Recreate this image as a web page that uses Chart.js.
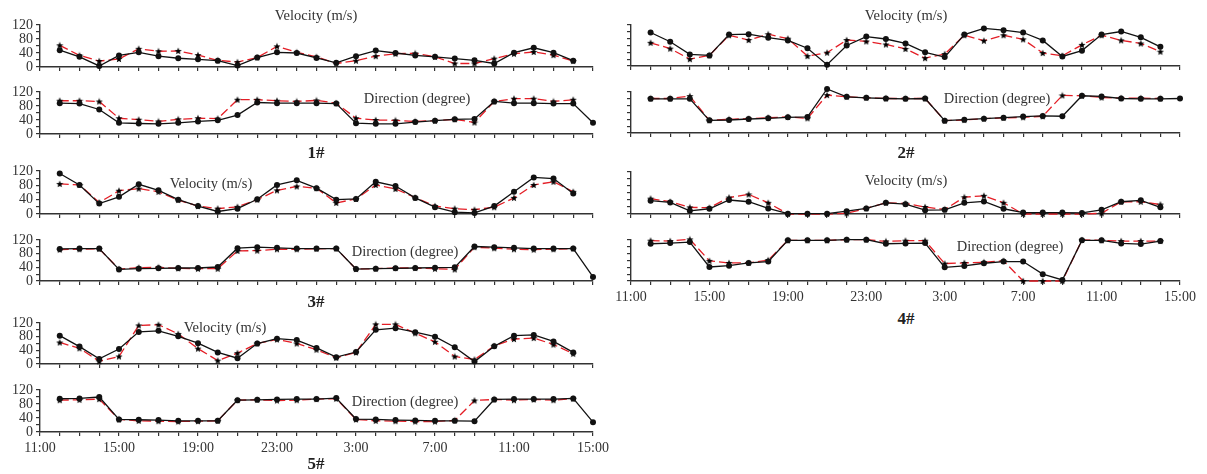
<!DOCTYPE html>
<html><head><meta charset="utf-8">
<script src="https://cdn.jsdelivr.net/npm/chart.js@4.4.0/dist/chart.umd.min.js"></script>
<style>
html,body{margin:0;padding:0;background:#fff;}
#wrap{position:relative;width:1207px;height:474px;overflow:hidden;font-family:"Liberation Serif","Times New Roman",serif;color:#333;}
#wrap canvas{position:absolute;}
.t{position:absolute;transform:translate(-50%,-50%);white-space:nowrap;font-size:14.5px;line-height:1;color:#333;}
.s{position:absolute;transform:translate(-50%,-50%);white-space:nowrap;font-weight:bold;font-size:17px;line-height:1;color:#222;}
</style></head><body><div id="wrap"></div>
<script>
// Hour categories (11:00 day 1 to 15:00 day 2)
const hours = ['11:00','12:00','13:00','14:00','15:00','16:00','17:00','18:00','19:00','20:00','21:00','22:00','23:00',
  '0:00','1:00','2:00','3:00','4:00','5:00','6:00','7:00','8:00','9:00','10:00','11:00','12:00','13:00','14:00','15:00'];
const yTickLabels = [0, 40, 80, 120];

// Values from 12:00 (day 1) onward
const vel1Measured  = [48,29,3,33,42,31,25,22,18,4,27,42, 40,26,12,31,47,40,33,29,24,19,10,41,55,41,18];
const vel1Simulated = [62,33,17,23,52,45,46,34,19,14,27,59, 42,29,10,18,31,38,39,29,10,10,24,38,43,34,17];
const dir1Measured  = [88,87,70,32,30,29,32,36,39,54,90,88, 88,88,87,31,29,29,34,38,42,43,93,88,88,87,87,32];
const dir1Simulated = [95,95,93,45,41,36,42,45,44,98,98,95, 93,96,88,45,40,39,36,38,42,33,93,101,101,93,98];

const vel2Measured  = [98,71,34,31,92,93,83,75,52,4,60,86, 79,66,40,26,92,110,105,98,75,28,45,92,101,84,56];
const vel2Simulated = [68,51,20,31,90,76,93,80,29,39,76,72, 63,50,23,35,90,74,90,78,38,30,62,90,75,66,42];
const dir2Measured  = [100,100,100,37,38,41,43,46,47,129,106,103, 101,100,101,36,39,42,45,48,50,49,109,107,101,100,100,101];
const dir2Simulated = [101,101,108,37,40,42,45,47,43,111,106,103, 101,101,101,36,38,42,44,46,49,110,109,104,102,102,101];

const vel3Measured  = [113,81,29,48,83,66,40,22,7,15,41,81, 94,72,40,42,90,78,45,19,5,3,22,62,102,99,57];
const vel3Simulated = [84,81,32,65,71,62,39,22,15,20,40,66, 77,72,31,42,81,70,46,22,15,12,19,45,81,90,62];
const dir3Measured  = [94,95,95,34,36,37,38,38,41,96,99,97, 95,95,95,35,36,37,38,39,40,101,99,97,95,95,95,12];
const dir3Simulated = [92,93,94,35,39,40,37,36,36,88,89,93, 93,94,95,35,36,38,38,36,34,99,96,93,92,93,95];

const vel4Measured  = [38,33,9,15,40,35,16,1,1,1,8,16, 32,28,11,12,32,36,15,4,4,4,3,12,35,39,19];
const vel4Simulated = [44,35,19,18,47,56,32,0,0,0,2,16, 32,30,20,13,48,52,32,0,0,0,0,2,35,35,27];
const dir4Measured  = [109,111,114,41,45,53,57,119,119,119,121,121, 109,110,111,40,44,52,57,57,20,3,119,119,110,108,117];
const dir4Simulated = [118,117,122,59,53,53,61,119,119,119,121,121, 116,118,118,51,53,55,59,0,0,0,120,119,117,117,117];

const vel5Measured  = [83,51,15,44,94,97,81,61,34,17,60,74, 70,47,20,35,100,105,93,80,49,7,52,83,85,66,34];
const vel5Simulated = [63,46,8,22,113,115,88,45,10,32,60,72, 60,42,18,34,116,116,90,65,22,13,53,73,76,57,30];
const dir5Measured  = [95,96,100,36,35,34,32,32,32,91,92,93, 94,94,97,37,36,34,33,32,32,31,93,94,94,94,96,28];
const dir5Simulated = [91,92,94,36,32,31,30,31,32,91,92,90, 91,94,95,36,32,31,30,30,33,90,93,91,93,91,95];

// star marker
const star = document.createElement('canvas');
star.width = 8; star.height = 8;
(function(){
  const c = star.getContext('2d');
  c.beginPath();
  for (let k = 0; k < 10; k++) {
    const r = k % 2 === 0 ? 3.8 : 1.6;
    const a = -Math.PI/2 + k*Math.PI/5;
    const x = 4 + r*Math.cos(a), y = 4.3 + r*Math.sin(a);
    k === 0 ? c.moveTo(x,y) : c.lineTo(x,y);
  }
  c.closePath(); c.fillStyle = '#000'; c.fill();
})();

const toSeries = arr => [null].concat(arr).concat(new Array(hours.length - 1 - arr.length).fill(null));

const wrap = document.getElementById('wrap');
const L = {a: 40, b: 593, showY: true};
const R = {a: 631, b: 1180, showY: false};

const panels = [
  {col: L, T: 25, B: 67, m: vel1Measured, s: vel1Simulated, xl: false},
  {col: L, T: 92, B: 134, m: dir1Measured, s: dir1Simulated, xl: false},
  {col: L, T: 171, B: 214, m: vel3Measured, s: vel3Simulated, xl: false},
  {col: L, T: 240, B: 281, m: dir3Measured, s: dir3Simulated, xl: false},
  {col: L, T: 323, B: 364, m: vel5Measured, s: vel5Simulated, xl: false},
  {col: L, T: 390, B: 432, m: dir5Measured, s: dir5Simulated, xl: true},
  {col: R, T: 25, B: 66, m: vel2Measured, s: vel2Simulated, xl: false},
  {col: R, T: 92, B: 133, m: dir2Measured, s: dir2Simulated, xl: false},
  {col: R, T: 172, B: 214, m: vel4Measured, s: vel4Simulated, xl: false},
  {col: R, T: 240, B: 281, m: dir4Measured, s: dir4Simulated, xl: true},
];

const FONT = {family: '"Liberation Serif","Times New Roman",serif', size: 14};
panels.forEach(p => {
  const padTop = 8, padBottom = 2, padRight = 24;
  const xh = p.xl ? 24 : 5;
  const h = p.B - p.T;
  const cv = document.createElement('canvas');
  const W = (p.col.b - p.col.a) + 40 + padRight;
  const H = padTop + h + xh + padBottom;
  cv.width = W; cv.height = H;
  cv.style.left = (p.col.a - 40) + 'px';
  cv.style.top = (p.T - padTop) + 'px';
  cv.style.width = W + 'px'; cv.style.height = H + 'px';
  wrap.appendChild(cv);
  new Chart(cv, {
    type: 'line',
    data: {
      labels: hours,
      datasets: [
        {data: toSeries(p.m), borderColor: '#111', borderWidth: 1.3, pointRadius: 3, pointBackgroundColor: '#111',
         pointBorderWidth: 0, tension: 0, clip: false, spanGaps: false},
        {data: toSeries(p.s), borderColor: '#e41e26', borderWidth: 1.3, borderDash: [9, 4], pointStyle: star,
         tension: 0, clip: false, spanGaps: false}
      ]
    },
    options: {
      responsive: false, animation: false, devicePixelRatio: 1,
      layout: {padding: {top: padTop, bottom: padBottom, right: padRight, left: 0}},
      plugins: {legend: {display: false}, tooltip: {enabled: false}},
      scales: {
        x: {
          type: 'category', offset: false,
          grid: {drawOnChartArea: false, drawTicks: true, tickLength: 4, color: '#333', lineWidth: 1.2},
          border: {display: true, color: '#333', width: 1.4},
          ticks: {autoSkip: false, maxRotation: 0, padding: 4, color: '#333', font: FONT,
                  callback: (v, i) => (p.xl && i % 4 === 0) ? hours[i] : ''},
          afterFit: s => { s.height = xh; s.paddingLeft = 0; s.paddingRight = 0; }
        },
        y: {
          min: 0, max: 120,
          grid: {drawOnChartArea: false, drawTicks: true, tickLength: 4, color: '#333', lineWidth: 1.2},
          border: {display: true, color: '#333', width: 1.4},
          ticks: {stepSize: 20, autoSkip: false, padding: 3, color: '#333', font: FONT,
                  callback: v => (p.col.showY && yTickLabels.includes(v)) ? String(v) : ''},
          afterFit: s => { s.width = 40; s.paddingTop = 0; s.paddingBottom = 0; }
        }
      }
    }
  });
});

const texts = [
  ['t', 'Velocity (m/s)', 316, 15], ['t', 'Direction (degree)', 417, 98], ['s', '1#', 316, 152],
  ['t', 'Velocity (m/s)', 211, 183], ['t', 'Direction (degree)', 405, 251], ['s', '3#', 316, 301],
  ['t', 'Velocity (m/s)', 225, 327], ['t', 'Direction (degree)', 405, 401], ['s', '5#', 316, 463],
  ['t', 'Velocity (m/s)', 906, 15], ['t', 'Direction (degree)', 997, 98], ['s', '2#', 906, 152],
  ['t', 'Velocity (m/s)', 906, 180], ['t', 'Direction (degree)', 1010, 246], ['s', '4#', 906, 318],
];
texts.forEach(([cls, txt, x, y]) => {
  const d = document.createElement('div');
  d.className = cls; d.textContent = txt;
  d.style.left = x + 'px'; d.style.top = y + 'px';
  wrap.appendChild(d);
});
</script></body></html>
